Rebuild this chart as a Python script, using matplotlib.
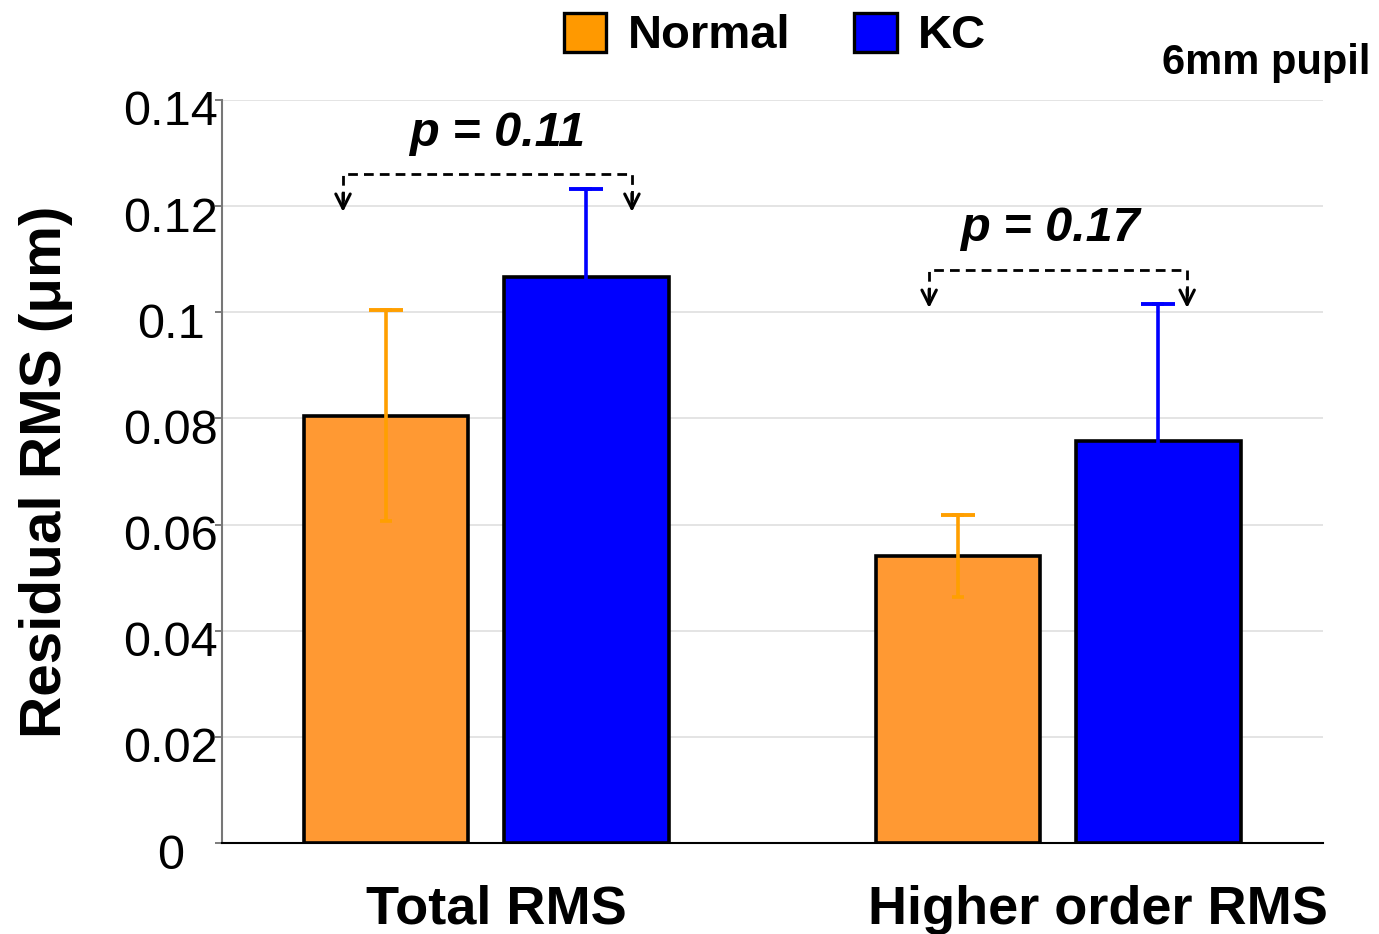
import numpy as np
import matplotlib.pyplot as plt
from matplotlib.patches import Patch
from matplotlib.transforms import ScaledTranslation

plt.rcParams['font.family'] = ['Liberation Sans', 'DejaVu Sans']

categories = ['Total RMS', 'Higher order RMS']
normal_mean = [0.0805, 0.0541]
normal_sd = [0.0199, 0.0077]
kc_mean = [0.1066, 0.0757]
kc_sd = [0.0166, 0.0259]
p_values = ['0.11', '0.17']

orange = '#FF9933'
orange_err = '#FF9F00'
blue = '#0000FF'

x = np.arange(len(categories))
off = 0.175
w = 0.288

fig = plt.figure(figsize=(13.79, 9.34), dpi=100)
ax = fig.add_axes([0.161, 0.0974, 0.7984, 0.7957])

ax.bar(x - off, normal_mean, w, color=orange, edgecolor='black', linewidth=2.6, zorder=3)
ax.bar(x + off, kc_mean, w, color=blue, edgecolor='black', linewidth=2.6, zorder=3)

# error bars: small stub at the lower end, wide cap on top
for xs, m, s, c in [(x - off, normal_mean, normal_sd, orange_err), (x + off, kc_mean, kc_sd, blue)]:
    m = np.array(m)
    s = np.array(s)
    ax.errorbar(xs, m, yerr=s, fmt='none', ecolor=c,
                elinewidth=2.6, capsize=4, capthick=2.6, zorder=4)
    ax.plot(xs, m + s, ls='none', marker='_', markersize=25, mew=2.8, color=c, zorder=4)

# significance brackets
brackets = [(-0.25, 0.255, 0.1261, 0.1189, 0.02, 0.1336),
            (1 - 0.2255, 1 + 0.2255, 0.1080, 0.1008, 1 - 0.014, 0.1157)]
for (x0, x1, yt, yb, tx, ty), p in zip(brackets, p_values):
    ax.plot([x0, x0, x1, x1], [yb + 0.002, yt, yt, yb + 0.002], ls=(0, (3.5, 2.2)),
            color='black', lw=2, zorder=5)
    for xx in (x0, x1):
        ax.annotate('', xy=(xx, yb), xytext=(xx, yb + 0.0035),
                    arrowprops=dict(arrowstyle='->', color='black', lw=2.2,
                                    mutation_scale=26, shrinkA=0, shrinkB=0),
                    zorder=5)
    ax.text(tx, ty, f'p = {p}', fontsize=35, fontweight='bold', style='italic',
            ha='center', va='center', zorder=6)

ax.set_xlim(-0.4615, 1.463)
ax.set_ylim(0, 0.14)
ax.set_yticks(np.arange(0, 0.141, 0.02))
ax.set_yticklabels(['0', '0.02', '0.04', '0.06', '0.08', '0.1', '0.12', '0.14'])
ax.yaxis.grid(True, color='#DDDDDD', lw=1.1, zorder=0)
ax.set_axisbelow(True)

ax.set_xticks([0.0175, 1.07])
ax.set_xticklabels(categories, fontsize=39, fontweight='bold')
ax.tick_params(axis='x', length=0, pad=30)
ax.tick_params(axis='y', labelsize=35, length=5, width=1.2, color='#666666', pad=6)
shift = ScaledTranslation(0, -0.08, fig.dpi_scale_trans)
for lab in ax.get_yticklabels():
    lab.set_horizontalalignment('center')
    lab.set_x(-0.0327)
    lab.set_transform(lab.get_transform() + shift)

for sp in ['top', 'right']:
    ax.spines[sp].set_visible(False)
ax.spines['left'].set_color('#777777')
ax.spines['left'].set_linewidth(1.5)
ax.spines['bottom'].set_color('black')
ax.spines['bottom'].set_linewidth(1.5)

ax.set_ylabel('Residual RMS (μm)', fontsize=42, fontweight='bold', labelpad=36)

handles = [Patch(facecolor='#FF9900', edgecolor='black', linewidth=2.4, label='Normal'),
           Patch(facecolor=blue, edgecolor='black', linewidth=2.4, label='KC')]
fig.legend(handles=handles, loc='center', bbox_to_anchor=(0.562, 0.962), ncol=2,
           frameon=False, prop={'size': 34, 'weight': 'bold'},
           handlelength=0.9, handleheight=0.9, handletextpad=0.45, columnspacing=1.35)

fig.text(0.994, 1 - 63 / 934, '6mm pupil', fontsize=30, fontweight='bold',
         ha='right', va='center')

fig.savefig('out.png', dpi=100)
